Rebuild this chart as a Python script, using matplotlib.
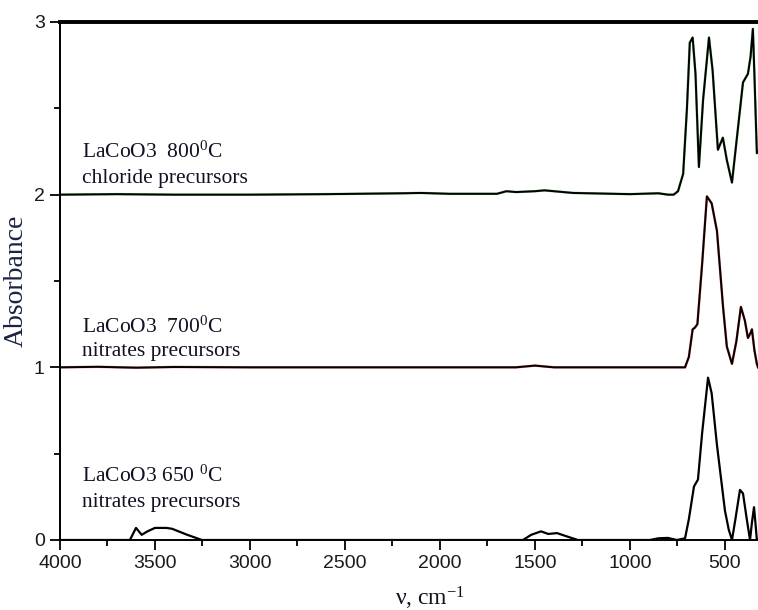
import numpy as np
import matplotlib.pyplot as plt
import matplotlib.ticker as ticker

plt.rcParams['mathtext.fontset'] = 'custom'
plt.rcParams['mathtext.rm'] = 'Liberation Serif'
plt.rcParams['mathtext.it'] = 'Liberation Serif:italic'

# LaCoO3 650 C, nitrates precursors (offset 0)
wn_650 = [4000, 3640, 3632, 3600, 3570, 3540, 3500, 3440, 3410, 3330, 3253, 3000, 2500,
          1600, 1563, 1520, 1468, 1430, 1384, 1330, 1274, 1200, 895, 850, 800, 753,
          710, 690, 663, 642, 620, 589, 570, 542, 500, 480, 463, 445, 421, 405, 385,
          368, 358, 347, 338, 332, 326]
abs_650 = [0, 0, 0.0, 0.07, 0.03, 0.05, 0.07, 0.07, 0.065, 0.03, 0.0, 0, 0,
           0.0, 0.0, 0.03, 0.05, 0.035, 0.04, 0.02, 0.0, 0, 0.0, 0.01, 0.012, 0.0,
           0.01, 0.12, 0.31, 0.35, 0.62, 0.94, 0.85, 0.55, 0.17, 0.06, 0.0, 0.12, 0.29, 0.27, 0.12,
           0.0, 0.1, 0.19, 0.08, 0.0, 0.0]

# LaCoO3 700 C, nitrates precursors (offset 1)
wn_700 = [4000, 3800, 3600, 3400, 3000, 2500, 2000, 1600, 1500, 1450, 1400, 1000, 800,
          710, 690, 670, 658, 645, 620, 595, 570, 542, 510, 490, 463, 440, 416, 395,
          379, 365, 358, 345, 332, 326]
abs_700 = [1.0, 1.003, 0.998, 1.002, 1.0, 1.0, 1.0, 1.0, 1.01, 1.005, 1.0, 1.0, 1.0,
           1.0, 1.06, 1.22, 1.23, 1.25, 1.6, 1.99, 1.95, 1.79, 1.35, 1.12, 1.02, 1.15, 1.35, 1.27,
           1.17, 1.2, 1.22, 1.1, 1.02, 1.0]

# LaCoO3 800 C, chloride precursors (offset 2)
wn_800 = [4000, 3700, 3400, 3000, 2600, 2200, 2100, 1950, 1700, 1650, 1600, 1500, 1450,
          1400, 1300, 1000, 850, 800, 770, 747, 720, 700, 685, 670, 655, 637, 615, 584,
          565, 537, 511, 490, 463, 440, 405, 379, 365, 353, 345, 332, 326]
abs_800 = [2.0, 2.003, 2.0, 2.0, 2.003, 2.008, 2.01, 2.005, 2.005, 2.02, 2.015, 2.02, 2.025,
           2.02, 2.01, 2.003, 2.008, 2.0, 2.0, 2.02, 2.12, 2.5, 2.88, 2.91, 2.7, 2.16, 2.55, 2.91,
           2.72, 2.26, 2.33, 2.2, 2.07, 2.3, 2.65, 2.7, 2.8, 2.96, 2.7, 2.24, 2.25]

label_top = ["LaCoO3  800$^{0}$C", "LaCoO3  700$^{0}$C", "LaCoO3 650 $^{0}$C"]
label_bottom = ["chloride precursors", "nitrates precursors", "nitrates precursors"]
label_y = [(2.215, 2.065), (1.2, 1.065), (0.335, 0.19)]

fig = plt.figure(figsize=(7.58, 6.10), dpi=100)
ax = fig.add_axes([60 / 758, 70 / 610, 698 / 758, 518 / 610])

ax.plot(wn_800, abs_800, color="#2a9a2a", lw=1.8, alpha=0.6)
ax.plot(wn_800, abs_800, color="black", lw=1.4)
ax.plot(wn_700, abs_700, color="#e02020", lw=1.8, alpha=0.6)
ax.plot(wn_700, abs_700, color="black", lw=1.4)
ax.plot(wn_650, abs_650, color="black", lw=1.6)

ax.set_xlim(4000, 326)
ax.set_ylim(0, 3)

ax.xaxis.set_major_locator(ticker.MultipleLocator(500))
ax.xaxis.set_minor_locator(ticker.MultipleLocator(250))
ax.yaxis.set_major_locator(ticker.MultipleLocator(1))
ax.yaxis.set_minor_locator(ticker.MultipleLocator(0.5))
ax.tick_params(which="major", direction="out", length=7, width=1.3, labelsize=14, pad=4)
ax.tick_params(which="minor", direction="out", length=4, width=1.3)
for lab in ax.get_xticklabels() + ax.get_yticklabels():
    lab.set_fontfamily("Liberation Sans")
    lab.set_color("#1a1a1a")

ax.spines["right"].set_visible(False)
ax.spines["top"].set_linewidth(2.8)
ax.spines["left"].set_linewidth(1.4)
ax.spines["bottom"].set_linewidth(1.4)

for l1, l2, (y1, y2) in zip(label_top, label_bottom, label_y):
    ax.text(3885, y1, l1, fontsize=15.5, family="Liberation Serif", color="#111122", va="baseline")
    ax.text(3885, y2, l2, fontsize=15.5, family="Liberation Serif", color="#111122", va="baseline")

ax.set_ylabel("Absorbance", fontsize=20, family="Liberation Serif", color="#1c2340", labelpad=4)
fig.text(395 / 758, 5 / 610, "ν, cm$^{-1}$", fontsize=17, family="Liberation Serif",
         color="#111122", va="baseline", ha="left")

plt.savefig("out.png", dpi=100)
